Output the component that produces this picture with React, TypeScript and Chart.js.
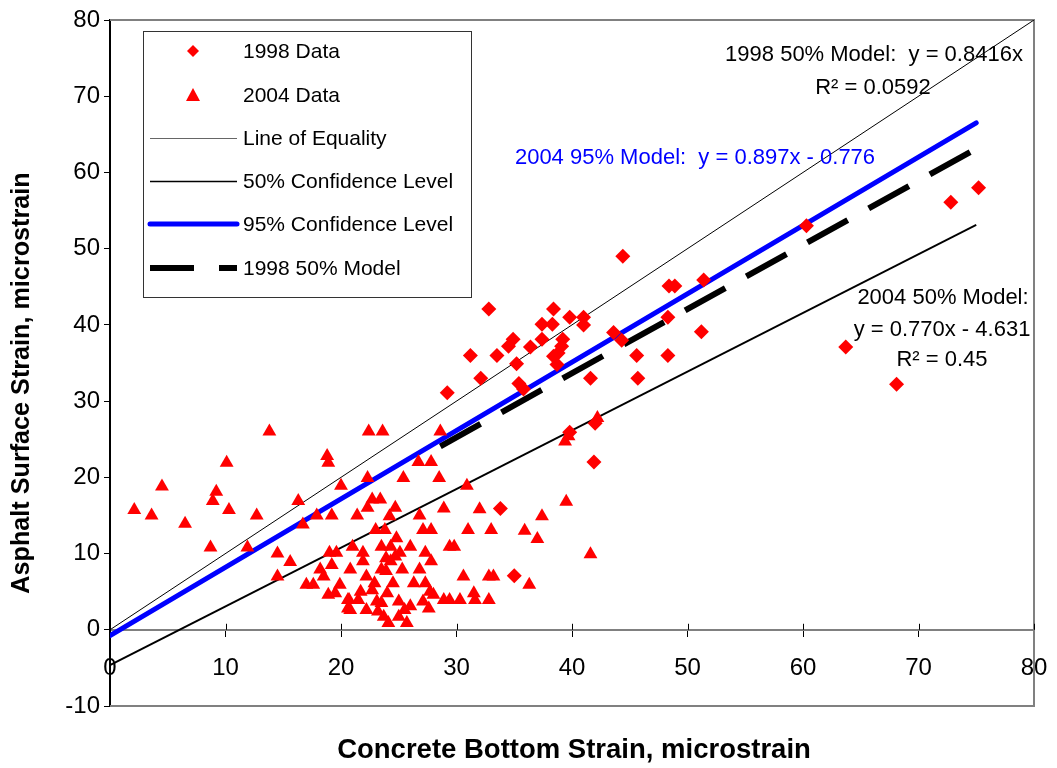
import { useEffect, useRef } from 'react';
import { Chart, registerables } from 'chart.js';

Chart.register(...registerables);

const FONT = "'Liberation Sans', Arial, Helvetica, sans-serif";

const xTickValues = [0, 10, 20, 30, 40, 50, 60, 70, 80];
const yTickValues = [-10, 0, 10, 20, 30, 40, 50, 60, 70, 80];

const data1998: [number, number][] = [
  [29.2, 31.1], [31.2, 36.0], [32.1, 33.0], [32.8, 42.1], [33.5, 36.0], [34.5, 37.2],
  [34.9, 38.1], [35.2, 34.9], [35.4, 32.3], [35.8, 31.6], [36.4, 37.1], [37.4, 38.1],
  [37.4, 40.1], [38.3, 40.1], [38.4, 42.1], [38.4, 35.9], [38.7, 34.8], [38.8, 36.3],
  [39.1, 37.2], [39.2, 38.1], [39.8, 41.0], [41.0, 41.0], [41.0, 40.0], [41.6, 33.0],
  [39.8, 25.9], [42.0, 27.1], [41.9, 22.0], [33.8, 15.9], [35.0, 7.1], [43.6, 39.0],
  [44.3, 38.0], [44.4, 49.0], [45.6, 36.0], [45.7, 33.0], [48.3, 41.0], [48.3, 36.0],
  [48.4, 45.1], [48.9, 45.1], [51.2, 39.1], [51.4, 45.9], [60.3, 53.0], [63.7, 37.1],
  [68.1, 32.2], [72.8, 56.1], [75.2, 58.0],
];

const data2004: [number, number][] = [
  [2.1, 15.7], [3.6, 15.0], [4.5, 18.8], [6.5, 13.9], [8.7, 10.8], [8.9, 16.9], [9.2, 18.1],
  [10.1, 21.9], [10.3, 15.7], [11.9, 10.8], [12.7, 15.0], [13.8, 26.0], [14.5, 10.0], [14.5, 7.0],
  [15.6, 8.9], [16.3, 16.9], [16.7, 13.8], [17.0, 5.9], [17.6, 5.9], [17.9, 15.0], [18.2, 7.9],
  [18.5, 7.0], [18.8, 22.8], [18.9, 21.9], [18.9, 4.6], [19.0, 10.1], [19.2, 15.0], [19.2, 8.5],
  [19.5, 4.8], [19.6, 10.1], [19.9, 5.9], [20.0, 18.9], [20.6, 3.9], [20.6, 2.8],
  [22.4, 26.0], [23.6, 26.0], [28.6, 26.0], [26.7, 22.0], [27.8, 22.0], [22.3, 19.9], [25.4, 19.9],
  [28.5, 19.9], [30.9, 18.9], [22.7, 17.1], [23.4, 17.1], [24.7, 16.0], [22.3, 16.0], [28.9, 15.9],
  [32.0, 15.8], [24.2, 14.9], [21.4, 15.0], [26.8, 15.0], [27.1, 13.1], [27.8, 13.1], [31.0, 13.1],
  [33.0, 13.1], [23.0, 13.1], [23.8, 13.1], [24.8, 12.0], [24.3, 10.9], [21.0, 10.9], [23.5, 10.9],
  [26.0, 10.9], [29.4, 10.9], [29.8, 10.9], [21.9, 10.1], [27.3, 10.1], [25.1, 10.1], [24.7, 9.6],
  [23.9, 9.4], [24.3, 9.0], [21.9, 9.0], [27.8, 9.0], [20.8, 7.9], [23.5, 7.9], [23.9, 7.7],
  [25.3, 7.9], [26.8, 7.9], [30.6, 7.0], [22.2, 7.0], [22.9, 6.1], [22.7, 5.2], [24.5, 6.1],
  [26.3, 6.1], [27.3, 6.1], [21.7, 5.0], [24.0, 4.8], [27.7, 5.0], [28.0, 4.6], [31.5, 4.8],
  [20.7, 3.9], [21.5, 3.9], [23.1, 3.7], [23.5, 3.5], [25.0, 3.7], [26.0, 3.1], [25.5, 2.6],
  [27.1, 3.7], [27.6, 2.8], [28.9, 3.9], [29.4, 3.9], [30.3, 3.9], [31.6, 3.9], [20.8, 2.6],
  [22.2, 2.6], [23.2, 2.4], [23.7, 1.7], [24.1, 0.9], [25.7, 0.9], [25.0, 1.7],
  [35.9, 13.0], [37.0, 11.9], [37.4, 14.9], [39.5, 16.8], [39.4, 24.7], [39.7, 25.4], [41.6, 9.9],
  [32.8, 7.0], [33.2, 7.0], [36.3, 5.9], [32.8, 3.9], [42.2, 27.8],
];

const equalityLine: [number, number][] = [[0, 0], [80, 80]];
const conf50Line: [number, number][] = [[0, -4.631], [75, 53.12]];
const conf95Line: [number, number][] = [[0, -0.776], [75, 66.5]];
const model1998Line: [number, number][] = [[28.6, 24.07], [75, 63.12]];

const legendLabels = [
  '1998 Data',
  '2004 Data',
  'Line of Equality',
  '50% Confidence Level',
  '95% Confidence Level',
  '1998 50% Model',
];

const xTitle = 'Concrete Bottom Strain, microstrain';
const yTitle = 'Asphalt Surface Strain, microstrain';

const notes1998 = ['1998 50% Model:  y = 0.8416x', 'R\u00B2 = 0.0592'];
const note95 = '2004 95% Model:  y = 0.897x - 0.776';
const notes2004 = ['2004 50% Model:', 'y = 0.770x - 4.631', 'R\u00B2 = 0.45'];

const toPts = (arr: [number, number][]) => arr.map(([x, y]) => ({ x, y }));

const RED = '#FF0000';
const BLUE = '#0000FF';

const overlayPlugin = {
  id: 'overlay',
  beforeDatasetsDraw(chart: any) {
    const { ctx, chartArea: ca, scales } = chart;
    ctx.save();
    ctx.strokeStyle = '#808080';
    ctx.lineWidth = 2;
    ctx.beginPath();
    ctx.moveTo(ca.left, ca.top);
    ctx.lineTo(ca.right, ca.top);
    ctx.lineTo(ca.right, ca.bottom);
    ctx.lineTo(ca.left, ca.bottom);
    ctx.stroke();
    const y0 = scales.y.getPixelForValue(0);
    ctx.strokeStyle = '#000';
    ctx.lineWidth = 1;
    ctx.beginPath();
    for (const t of xTickValues) {
      const px = Math.round(scales.x.getPixelForValue(t)) + 0.5;
      ctx.moveTo(px, y0 - 6);
      ctx.lineTo(px, y0);
    }
    ctx.stroke();
    ctx.restore();
  },
  afterDatasetsDraw(chart: any) {
    const { ctx } = chart;
    ctx.save();
    const bx = 143, by = 31, bw = 328, bh = 266;
    ctx.fillStyle = '#fff';
    ctx.fillRect(bx, by, bw, bh);
    ctx.strokeStyle = '#333';
    ctx.lineWidth = 1;
    ctx.strokeRect(bx + 0.5, by + 0.5, bw, bh);
    const rows = [51, 95, 138, 181, 224, 268];
    const mx = 193;
    ctx.font = `21px ${FONT}`;
    ctx.textBaseline = 'middle';
    ctx.textAlign = 'left';
    rows.forEach((ry, i) => {
      ctx.fillStyle = '#000';
      ctx.fillText(legendLabels[i], 243, ry + 1);
    });
    ctx.fillStyle = RED;
    ctx.beginPath();
    ctx.moveTo(mx, rows[0] - 6);
    ctx.lineTo(mx + 6, rows[0]);
    ctx.lineTo(mx, rows[0] + 6);
    ctx.lineTo(mx - 6, rows[0]);
    ctx.closePath();
    ctx.fill();
    ctx.beginPath();
    ctx.moveTo(mx, rows[1] - 7);
    ctx.lineTo(mx + 7, rows[1] + 6);
    ctx.lineTo(mx - 7, rows[1] + 6);
    ctx.closePath();
    ctx.fill();
    const line = (y: number, w: number, color: string, cap: CanvasLineCap, dash: number[]) => {
      ctx.beginPath();
      ctx.strokeStyle = color;
      ctx.lineWidth = w;
      ctx.lineCap = cap;
      ctx.setLineDash(dash);
      ctx.moveTo(150, y);
      ctx.lineTo(237, y);
      ctx.stroke();
      ctx.setLineDash([]);
    };
    line(rows[2] + 0.5, 1, '#666', 'butt', []);
    line(rows[3] + 0.5, 1.7, '#000', 'butt', []);
    line(rows[4], 5, BLUE, 'round', []);
    line(rows[5], 6, '#000', 'butt', [44, 25]);

    ctx.font = `22px ${FONT}`;
    ctx.textAlign = 'center';
    ctx.fillStyle = '#000';
    ctx.fillText(notes1998[0], 874, 55);
    ctx.fillText(notes1998[1], 873, 88);
    ctx.fillText(notes2004[0], 943, 298);
    ctx.fillText(notes2004[1], 942, 330);
    ctx.fillText(notes2004[2], 942, 360);
    ctx.fillStyle = BLUE;
    ctx.fillText(note95, 695, 158);

    ctx.fillStyle = '#000';
    ctx.font = `bold 27.5px ${FONT}`;
    ctx.fillText(xTitle, 574, 750);
    ctx.save();
    ctx.translate(22, 383);
    ctx.rotate(-Math.PI / 2);
    ctx.font = `bold 25.2px ${FONT}`;
    ctx.fillText(yTitle, 0, 0);
    ctx.restore();
    ctx.restore();
  },
};

export default function App() {
  const canvasRef = useRef<HTMLCanvasElement | null>(null);

  useEffect(() => {
    if (!canvasRef.current) return;
    const chart = new Chart(canvasRef.current, {
      type: 'scatter',
      data: {
        datasets: [
          {
            label: legendLabels[0],
            data: toPts(data1998),
            pointStyle: 'rectRot',
            pointRadius: 7.5,
            backgroundColor: RED,
            borderColor: RED,
            borderWidth: 0,
            showLine: false,
          },
          {
            label: legendLabels[1],
            data: toPts(data2004),
            pointStyle: 'triangle',
            pointRadius: 8,
            backgroundColor: RED,
            borderColor: RED,
            borderWidth: 0,
            showLine: false,
          },
          {
            label: legendLabels[2],
            data: toPts(equalityLine),
            showLine: true,
            borderColor: '#000',
            borderWidth: 1,
            pointRadius: 0,
          },
          {
            label: legendLabels[3],
            data: toPts(conf50Line),
            showLine: true,
            borderColor: '#000',
            borderWidth: 1.8,
            pointRadius: 0,
          },
          {
            label: legendLabels[4],
            data: toPts(conf95Line),
            showLine: true,
            borderColor: BLUE,
            borderWidth: 5,
            borderCapStyle: 'round',
            pointRadius: 0,
          },
          {
            label: legendLabels[5],
            data: toPts(model1998Line),
            showLine: true,
            borderColor: '#000',
            borderWidth: 6,
            borderDash: [46, 24],
            borderCapStyle: 'butt',
            pointRadius: 0,
          },
        ],
      },
      options: {
        animation: false,
        responsive: true,
        maintainAspectRatio: false,
        layout: { padding: { left: 0, top: 20, right: 23, bottom: 62 } },
        plugins: {
          legend: { display: false },
          tooltip: { enabled: false },
        },
        scales: {
          x: {
            type: 'linear',
            min: 0,
            max: 80,
            position: { y: 0 },
            afterBuildTicks: (s: any) => {
              s.ticks = xTickValues.map((v) => ({ value: v }));
            },
            afterFit: (s: any) => {
              s.paddingRight = 0;
              s.paddingLeft = 0;
            },
            ticks: {
              font: { family: FONT, size: 24 },
              color: '#000',
              padding: 18,
              maxRotation: 0,
              autoSkip: false,
            },
            grid: { drawOnChartArea: false, drawTicks: true, tickLength: 6, color: '#000', lineWidth: 1 },
            border: { display: true, color: '#808080', width: 2 },
          },
          y: {
            type: 'linear',
            min: -10,
            max: 80,
            position: 'left',
            afterBuildTicks: (s: any) => {
              s.ticks = yTickValues.map((v) => ({ value: v }));
            },
            afterFit: (s: any) => {
              s.width = 110;
            },
            ticks: {
              font: { family: FONT, size: 24 },
              color: '#000',
              padding: 4,
              autoSkip: false,
            },
            grid: { drawOnChartArea: false, drawTicks: true, tickLength: 6, color: '#000', lineWidth: 1 },
            border: { display: true, color: '#000', width: 2 },
          },
        },
      },
      plugins: [overlayPlugin],
    } as any);
    return () => chart.destroy();
  }, []);

  return (
    <div style={{ position: 'absolute', left: 0, top: 0, width: 1057, height: 768, background: '#fff' }}>
      <canvas ref={canvasRef} />
    </div>
  );
}
